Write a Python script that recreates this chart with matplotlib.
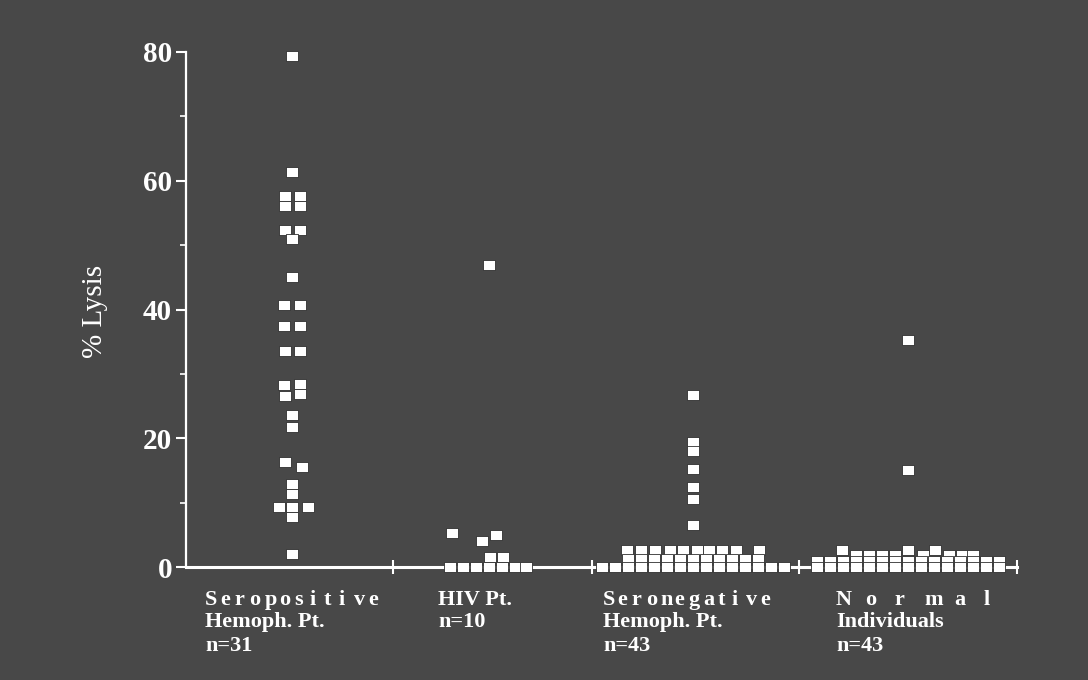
import matplotlib
matplotlib.use("Agg")
import matplotlib.pyplot as plt
from matplotlib.path import Path
from matplotlib import transforms

# ---- data -------------------------------------------------------------
group_names = ["Seropositive", "HIV Pt.", "Seronegative", "Normal"]
group_line2 = ["Hemoph. Pt.", "n=10", "Hemoph. Pt.", "Individuals"]
group_line3 = ["n=31", "", "n=43", "n=43"]

seropos_lysis = [79.4, 61.4, 57.6, 57.6, 56.1, 56.1, 52.4, 52.4, 51.0, 45.0,
                 40.7, 40.7, 37.4, 37.4, 33.6, 33.6, 28.3, 28.4, 26.6, 26.9,
                 23.6, 21.8, 16.3, 15.5, 12.9, 11.3, 9.3, 9.3, 9.3, 7.8, 2.0]

hiv_lysis = [46.9, 5.3, 4.0, 5.0, 1.6, 1.6, 0, 0, 0, 0, 0, 0, 0]

seroneg_lysis = ([26.7, 19.4, 18.0, 15.2, 12.4, 10.6, 6.5]
                 + [2.6] * 10 + [1.2] * 11 + [0.0] * 15)

normal_lysis = ([35.3, 15.1]
                + [2.6] * 3 + [1.9] * 8 + [0.9] * 15 + [0.0] * 15)

y_ticks = [0, 20, 40, 60, 80]
y_minor = [10, 30, 50, 70]

# ---- layout: side-by-side column slots for tied points ------------------
seropos_col = [0, 0, -0.5, 0.6, -0.5, 0.6, -0.5, 0.6, 0, 0,
               -0.6, 0.6, -0.6, 0.6, -0.55, 0.6, -0.6, 0.6, -0.55, 0.6,
               0, 0, -0.55, 0.8, 0, 0, -1.0, 0, 1.2, 0, 0]
hiv_col = [0, -2.85, -0.6, 0.55, 0.05, 1.05, -3, -2, -1, 0, 0.95, 1.95, 2.85]
seroneg_col = ([0] * 7
               + [-5.1, -4.0, -2.9, -1.8, -0.8, 0.3, 1.2, 2.2, 3.3, 5.1]
               + list(range(-5, 6)) + list(range(-7, 8)))
normal_col = ([0, 0]
              + [-5.1, 0, 2.1]
              + [-4.0, -3.0, -2.0, -1.0, 1.15, 3.15, 4.15, 5.0]
              + list(range(-7, 8)) + list(range(-7, 8)))

centers = [0.51, 1.46, 2.44, 3.475]
slot_w = 0.0626
group_ticks = [0.996, 1.954, 2.951, 4.0]
label_left = [0.0915, 1.213, 2.007, 3.129]
letter_adv = [10.7, None, 10.3, 21.2]   # points per letter on the first line

BG = "#484848"
FG = "white"

plt.rcParams["font.family"] = ["Liberation Serif", "DejaVu Serif"]

fig = plt.figure(figsize=(10.88, 6.8), dpi=100, facecolor=BG)
ax = fig.add_axes([186 / 1088, 113 / 680, 831 / 1088, 515 / 680])
ax.set_facecolor(BG)
ax.set_xlim(0, 4)
ax.set_ylim(0, 80)

# slightly wide square marker
box = Path([(-0.6, -0.5), (0.6, -0.5), (0.6, 0.5), (-0.6, 0.5), (-0.6, -0.5)],
           [Path.MOVETO, Path.LINETO, Path.LINETO, Path.LINETO, Path.CLOSEPOLY])

series = [(seropos_lysis, seropos_col), (hiv_lysis, hiv_col),
          (seroneg_lysis, seroneg_col), (normal_lysis, normal_col)]
for c, (vals, cols) in zip(centers, series):
    xs = [c + k * slot_w for k in cols]
    ax.plot(xs, vals, ls="none", marker=box, ms=8.6, mfc=FG,
            mec="#2e2e2e", mew=0.6, clip_on=False, zorder=3)

# axes styling
for side in ("top", "right"):
    ax.spines[side].set_visible(False)
ax.spines["left"].set_color(FG)
ax.spines["left"].set_linewidth(1.6)
ax.spines["bottom"].set_color(FG)
ax.spines["bottom"].set_linewidth(2.2)

ax.set_xticks(group_ticks)
ax.tick_params(axis="x", direction="inout", length=10, width=1.5,
               colors=FG, labelbottom=False)
ax.set_yticks(y_ticks)
ax.set_yticks(y_minor, minor=True)
ax.tick_params(axis="y", which="major", direction="out", length=7, width=1.5,
               colors=FG, labelsize=21, pad=3)
ax.tick_params(axis="y", which="minor", direction="out", length=4, width=1.2,
               colors=FG)
for lab in ax.get_yticklabels():
    lab.set_fontweight("bold")

fig.text(95 / 1088, 1 - 311 / 680, "% Lysis", rotation=90, ha="center",
         va="center", fontsize=21, color=FG)

# category captions below the axis
base = transforms.blended_transform_factory(ax.transData, ax.transAxes)
line_drop = [-27.4, -43.2, -60.5]
txt_kw = dict(color=FG, fontsize=16, fontweight="bold", va="baseline",
              ha="left")
for x0, name, l2, l3, adv in zip(label_left, group_names, group_line2,
                                 group_line3, letter_adv):
    if adv is None:
        tr = transforms.offset_copy(base, fig, x=0, y=line_drop[0],
                                    units="points")
        ax.text(x0, 0, name, transform=tr, **txt_kw)
    else:
        for i, ch in enumerate(name):
            tr = transforms.offset_copy(base, fig, x=i * adv, y=line_drop[0],
                                        units="points")
            ax.text(x0, 0, ch, transform=tr, **txt_kw)
    for txt, dy in ((l2, line_drop[1]), (l3, line_drop[2])):
        if txt:
            tr = transforms.offset_copy(base, fig, x=0, y=dy, units="points")
            ax.text(x0, 0, txt, transform=tr, **txt_kw)

fig.savefig("out.png", dpi=100, facecolor=BG)
